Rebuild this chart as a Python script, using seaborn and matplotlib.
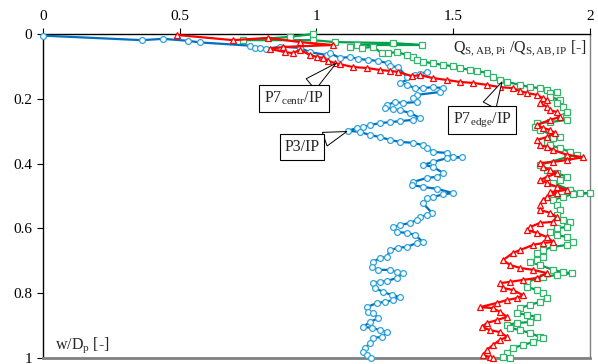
import numpy as np
import pandas as pd
import matplotlib
matplotlib.use("Agg")
import matplotlib.pyplot as plt
import seaborn as sns

# ---------------- data ----------------
p3_x = [0.000, 0.362, 0.439, 0.530, 0.574, 0.757, 0.775, 0.793, 0.815, 0.867, 0.940, 0.976,
        1.038, 1.049, 1.086, 1.122, 1.152, 1.188, 1.225, 1.261, 1.269, 1.298, 1.331, 1.360,
        1.378, 1.404, 1.305, 1.331, 1.360, 1.389, 1.426, 1.463, 1.452, 1.367, 1.353, 1.367,
        1.316, 1.287, 1.258, 1.250, 1.280, 1.305, 1.342, 1.378, 1.353, 1.305, 1.269, 1.232,
        1.196, 1.170, 1.148, 1.115, 1.159, 1.196, 1.232, 1.269, 1.305, 1.353, 1.389, 1.404,
        1.426, 1.477, 1.499, 1.532, 1.477, 1.426, 1.389, 1.426, 1.463, 1.441, 1.404, 1.353,
        1.349, 1.389, 1.441, 1.499, 1.463, 1.426, 1.404, 1.389, 1.422, 1.404, 1.378, 1.367,
        1.342, 1.305, 1.280, 1.294, 1.331, 1.360, 1.389, 1.367, 1.331, 1.298, 1.269, 1.258,
        1.232, 1.207, 1.203, 1.225, 1.269, 1.294, 1.316, 1.294, 1.258, 1.232, 1.207, 1.214,
        1.243, 1.276, 1.305, 1.280, 1.250, 1.221, 1.185, 1.188, 1.207, 1.225, 1.196, 1.170,
        1.203, 1.232, 1.258, 1.239, 1.207, 1.196, 1.177, 1.170, 1.185, 1.199]
p3_w = [0.005, 0.019, 0.015, 0.021, 0.026, 0.036, 0.042, 0.042, 0.046, 0.039, 0.043, 0.056,
        0.065, 0.059, 0.074, 0.071, 0.077, 0.080, 0.083, 0.090, 0.099, 0.102, 0.133, 0.127,
        0.123, 0.117, 0.151, 0.157, 0.167, 0.167, 0.164, 0.167, 0.179, 0.188, 0.198, 0.210,
        0.213, 0.210, 0.219, 0.228, 0.231, 0.235, 0.244, 0.259, 0.265, 0.269, 0.272, 0.275,
        0.281, 0.287, 0.290, 0.299, 0.302, 0.312, 0.318, 0.327, 0.333, 0.336, 0.343, 0.352,
        0.364, 0.367, 0.380, 0.380, 0.383, 0.395, 0.404, 0.410, 0.429, 0.441, 0.444, 0.457,
        0.466, 0.472, 0.478, 0.491, 0.495, 0.503, 0.506, 0.522, 0.552, 0.559, 0.565, 0.574,
        0.583, 0.590, 0.596, 0.611, 0.614, 0.620, 0.642, 0.645, 0.657, 0.660, 0.667, 0.688,
        0.691, 0.704, 0.719, 0.728, 0.728, 0.735, 0.738, 0.753, 0.762, 0.765, 0.769, 0.784,
        0.796, 0.806, 0.812, 0.821, 0.827, 0.830, 0.843, 0.858, 0.861, 0.877, 0.889, 0.904,
        0.907, 0.914, 0.920, 0.935, 0.938, 0.954, 0.969, 0.981, 0.991, 1.000]

p7c_x = [0.490, 0.695, 0.823, 0.940, 1.060, 0.878, 0.830, 0.885, 0.914, 0.940, 0.976, 1.002,
         1.024, 1.042, 1.068, 1.086, 1.133, 1.185, 1.232, 1.269, 1.298, 1.349, 1.378, 1.426,
         1.477, 1.525, 1.572, 1.623, 1.671, 1.718, 1.744, 1.770, 1.806, 1.828, 1.843, 1.817,
         1.843, 1.854, 1.879, 1.890, 1.854, 1.806, 1.828, 1.854, 1.872, 1.843, 1.806, 1.817,
         1.843, 1.865, 1.916, 1.974, 1.916, 1.865, 1.817, 1.828, 1.854, 1.879, 1.843, 1.817,
         1.843, 1.879, 1.916, 1.854, 1.879, 1.843, 1.828, 1.817, 1.817, 1.854, 1.879, 1.865,
         1.817, 1.781, 1.770, 1.806, 1.843, 1.865, 1.828, 1.792, 1.744, 1.718, 1.682, 1.708,
         1.744, 1.792, 1.843, 1.806, 1.755, 1.708, 1.671, 1.682, 1.718, 1.755, 1.733, 1.697,
         1.660, 1.598, 1.645, 1.671, 1.697, 1.660, 1.623, 1.605, 1.634, 1.671, 1.697, 1.671,
         1.645, 1.623, 1.609, 1.634, 1.645]
p7c_w = [0.003, 0.019, 0.012, 0.025, 0.034, 0.040, 0.046, 0.056, 0.059, 0.049, 0.065, 0.071,
         0.074, 0.083, 0.090, 0.093, 0.102, 0.105, 0.111, 0.114, 0.117, 0.130, 0.127, 0.136,
         0.142, 0.148, 0.151, 0.157, 0.164, 0.167, 0.176, 0.182, 0.188, 0.198, 0.204, 0.213,
         0.225, 0.235, 0.241, 0.256, 0.265, 0.281, 0.290, 0.296, 0.306, 0.318, 0.327, 0.343,
         0.349, 0.358, 0.373, 0.380, 0.389, 0.395, 0.398, 0.410, 0.420, 0.429, 0.441, 0.451,
         0.460, 0.472, 0.481, 0.488, 0.491, 0.503, 0.512, 0.528, 0.543, 0.552, 0.565, 0.580,
         0.583, 0.596, 0.605, 0.614, 0.627, 0.642, 0.645, 0.651, 0.667, 0.676, 0.698, 0.713,
         0.722, 0.728, 0.738, 0.753, 0.759, 0.765, 0.769, 0.784, 0.790, 0.806, 0.815, 0.821,
         0.830, 0.843, 0.846, 0.858, 0.873, 0.883, 0.892, 0.904, 0.914, 0.920, 0.935, 0.944,
         0.960, 0.975, 0.991, 0.997, 1.000]

p7e_x = [0.987, 0.903, 0.731, 0.987, 1.068, 1.280, 1.386, 1.148, 1.122, 1.166, 1.207, 1.239,
         1.261, 1.294, 1.331, 1.353, 1.367, 1.389, 1.426, 1.463, 1.499, 1.525, 1.561, 1.587,
         1.623, 1.645, 1.671, 1.697, 1.744, 1.781, 1.817, 1.843, 1.879, 1.854, 1.854, 1.890,
         1.879, 1.901, 1.916, 1.890, 1.916, 1.854, 1.806, 1.799, 1.817, 1.865, 1.890, 1.865,
         1.843, 1.854, 1.890, 1.927, 1.952, 1.916, 1.817, 1.843, 1.879, 1.916, 1.890, 1.865,
         1.927, 1.963, 2.000, 1.938, 1.901, 1.865, 1.879, 1.890, 1.879, 1.901, 1.927, 1.916,
         1.879, 1.854, 1.879, 1.916, 1.938, 1.916, 1.865, 1.828, 1.806, 1.828, 1.806, 1.781,
         1.817, 1.865, 1.901, 1.934, 1.879, 1.828, 1.770, 1.770, 1.806, 1.828, 1.843, 1.817,
         1.781, 1.744, 1.733, 1.770, 1.806, 1.781, 1.733, 1.697, 1.708, 1.744, 1.781, 1.817,
         1.828, 1.792, 1.755, 1.718, 1.697, 1.682, 1.708]
p7e_w = [0.000, 0.009, 0.019, 0.019, 0.025, 0.028, 0.034, 0.034, 0.040, 0.043, 0.040, 0.059,
         0.059, 0.056, 0.065, 0.071, 0.080, 0.086, 0.090, 0.096, 0.099, 0.105, 0.111, 0.114,
         0.120, 0.133, 0.142, 0.148, 0.157, 0.164, 0.167, 0.173, 0.179, 0.182, 0.194, 0.204,
         0.213, 0.225, 0.241, 0.256, 0.265, 0.272, 0.275, 0.287, 0.296, 0.312, 0.318, 0.321,
         0.333, 0.343, 0.352, 0.364, 0.373, 0.380, 0.404, 0.420, 0.429, 0.441, 0.451, 0.460,
         0.481, 0.491, 0.491, 0.494, 0.503, 0.512, 0.528, 0.543, 0.559, 0.574, 0.580, 0.596,
         0.599, 0.611, 0.620, 0.627, 0.642, 0.651, 0.657, 0.667, 0.676, 0.688, 0.698, 0.704,
         0.713, 0.728, 0.735, 0.738, 0.744, 0.750, 0.765, 0.781, 0.790, 0.799, 0.815, 0.827,
         0.836, 0.846, 0.861, 0.867, 0.873, 0.889, 0.892, 0.898, 0.907, 0.914, 0.923, 0.935,
         0.938, 0.951, 0.960, 0.969, 0.985, 0.997, 1.000]

x_ticks = [0, 0.5, 1, 1.5, 2]
x_tick_labels = ["0", "0.5", "1", "1.5", "2"]
y_ticks = [0, 0.2, 0.4, 0.6, 0.8, 1]
y_tick_labels = ["0", "0.2", "0.4", "0.6", "0.8", "1"]

# ---------------- style ----------------
sns.set_theme(style="white")
plt.rcParams["font.family"] = ["Liberation Serif", "DejaVu Serif"]
plt.rcParams["mathtext.fontset"] = "custom"
plt.rcParams["mathtext.rm"] = "Liberation Serif"
plt.rcParams["mathtext.it"] = "Liberation Serif:italic"

fig = plt.figure(figsize=(5.98, 3.64), dpi=100)
ax = fig.add_axes([0.0719, 0.0165, 0.9147, 0.8901])

series = [
    (p7e_x, p7e_w, "s", "#00A14B", "#33B56B"),
    (p3_x, p3_w, "o", "#0070C0", "#2EA3DC"),
    (p7c_x, p7c_w, "^", "#FF0000", "#FF0000"),
]
for xs, ws, mk, lc, mc in series:
    df = pd.DataFrame({"x": xs, "w": ws})
    sns.lineplot(data=df, x="x", y="w", sort=False, estimator=None, ax=ax,
                 color=lc, linewidth=1.6, marker=mk, markersize=4.2,
                 markerfacecolor="white", markeredgecolor=mc, markeredgewidth=0.9,
                 clip_on=False, zorder=3)

ax.set_xlim(0, 2)
ax.set_ylim(1, 0)
ax.set_xlabel("")
ax.set_ylabel("")
ax.xaxis.tick_top()
ax.set_xticks(x_ticks)
ax.set_xticklabels(x_tick_labels)
ax.set_yticks(y_ticks)
ax.set_yticklabels(y_tick_labels)
ax.tick_params(axis="both", which="major", direction="out", length=4, width=0.8,
               color="black", labelsize=11, labelcolor="black", pad=4)
ax.tick_params(axis="x", top=True, bottom=False)
ax.tick_params(axis="y", left=True, right=False)

for side in ["top", "left"]:
    ax.spines[side].set_color("black")
    ax.spines[side].set_linewidth(1.0)
ax.spines["right"].set_color("#808080")
ax.spines["right"].set_linewidth(1.0)
ax.spines["bottom"].set_color("#808080")
ax.spines["bottom"].set_linewidth(2.0)
ax.grid(False)

ax.text(0.995, 0.955, r"Q$_{\mathregular{S,AB,Pi}}$ /Q$_{\mathregular{S,AB,IP}}$ [-]",
        transform=ax.transAxes, ha="right", va="center", fontsize=11.5)
ax.text(0.022, 0.04, r"w/D$_{\mathregular{p}}$ [-]", transform=ax.transAxes,
        ha="left", va="center", fontsize=11.5)

bbox = dict(boxstyle="square,pad=0.3", fc="white", ec="black", lw=0.8)
arrow = dict(arrowstyle="wedge,tail_width=0.9", fc="white", ec="black", lw=0.7,
             shrinkA=0, shrinkB=0)
ax.annotate(r"P7$_{\mathregular{centr}}$/IP", xy=(1.072, 0.090), xytext=(0.918, 0.198),
            ha="center", va="center", fontsize=11.5, bbox=bbox, arrowprops=arrow, zorder=5)
ax.annotate(r"P3/IP", xy=(1.111, 0.301), xytext=(0.947, 0.349),
            ha="center", va="center", fontsize=11.5, bbox=bbox, arrowprops=arrow, zorder=5)
ax.annotate(r"P7$_{\mathregular{edge}}$/IP", xy=(1.678, 0.148), xytext=(1.605, 0.265),
            ha="center", va="center", fontsize=11.5, bbox=bbox, arrowprops=arrow, zorder=5)

fig.savefig("out.png", dpi=100)
